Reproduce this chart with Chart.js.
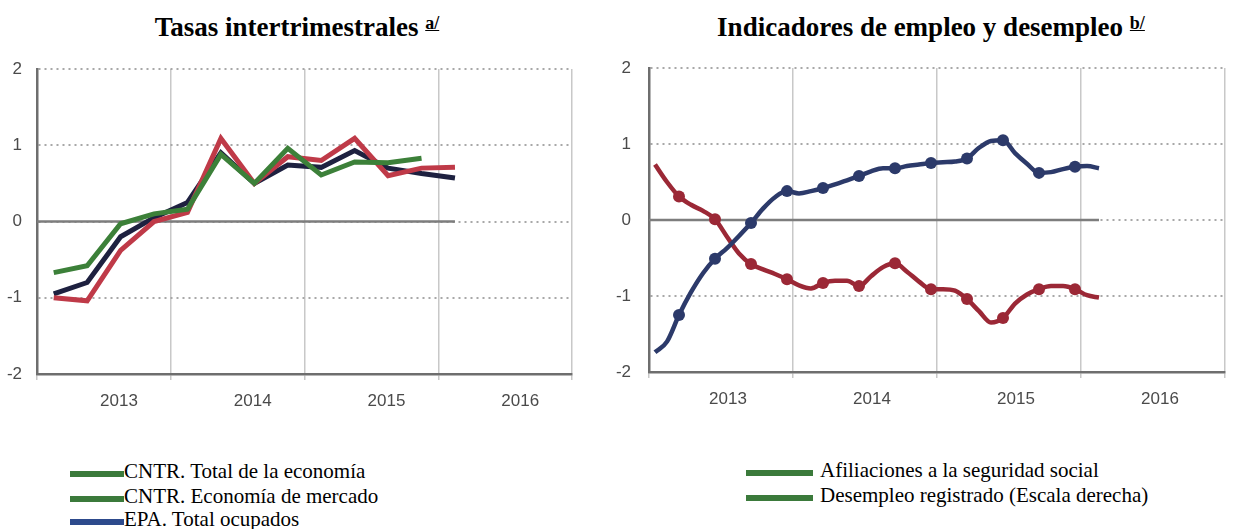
<!DOCTYPE html>
<html>
<head>
<meta charset="utf-8">
<script src="https://cdn.jsdelivr.net/npm/chart.js@4.4.0/dist/chart.umd.min.js"></script>
<style>
  body { margin: 0; background: #fff; width: 1236px; height: 529px; position: relative; overflow: hidden; }
  .box { position: absolute; top: 0; height: 440px; }
  .title { position: absolute; top: 12px; font: bold 27px 'Liberation Serif', 'Times New Roman', serif; text-align: center; white-space: nowrap; color: #000; }
  .title sup { font-size: 18px; text-decoration: underline; vertical-align: 7px; }
  .leg { position: absolute; font: 21px 'Liberation Serif', 'Times New Roman', serif; line-height: 24.5px; white-space: nowrap; color: #000; }
  .sw { display: inline-block; height: 6px; vertical-align: 1px; }
</style>
</head>
<body>
<div class="title" style="left:0;width:594px">Tasas intertrimestrales <sup>a/</sup></div>
<div class="title" style="left:626px;width:610px">Indicadores de empleo y desempleo <sup>b/</sup></div>

<div class="box" style="left:0;width:600px"><canvas id="left"></canvas></div>
<div class="box" style="left:600px;width:636px"><canvas id="right"></canvas></div>

<div class="leg" style="left:70px;top:459px"><span class="sw" style="width:54px;background:#3b7a3b"></span>CNTR. Total de la economía</div>
<div class="leg" style="left:70px;top:483.5px"><span class="sw" style="width:54px;background:#3b7a3b"></span>CNTR. Economía de mercado</div>
<div class="leg" style="left:70px;top:507px"><span class="sw" style="width:54px;background:#2d4a8c"></span>EPA. Total ocupados</div>

<div class="leg" style="left:746px;top:458px"><span class="sw" style="width:67px;margin-right:7px;background:#3b7a3b"></span>Afiliaciones a la seguridad social</div>
<div class="leg" style="left:746px;top:482.5px"><span class="sw" style="width:67px;margin-right:7px;background:#3b7a3b"></span>Desempleo registrado (Escala derecha)</div>

<script>
// data
const years = ['2013', '2014', '2015', '2016'];
const yTicks = [-2, -1, 0, 1, 2];

// quarterly, 2013-I .. 2016-I
const quarters = ['2013-I', '2013-II', '2013-III', '2013-IV', '2014-I', '2014-II', '2014-III', '2014-IV',
  '2015-I', '2015-II', '2015-III', '2015-IV', '2016-I'];
const cntrTotal = [-0.67, -0.58, -0.03, 0.10, 0.16, 0.88, 0.50, 0.96, 0.61, 0.78, 0.77, 0.83, null];
const cntrMercado = [-1.00, -1.04, -0.38, 0.00, 0.12, 1.09, 0.50, 0.85, 0.80, 1.09, 0.60, 0.70, 0.71];
const epaOcupados = [-0.95, -0.80, -0.20, 0.05, 0.25, 0.90, 0.50, 0.74, 0.71, 0.93, 0.70, 0.63, 0.57];

// monthly, ene-2013 .. feb-2016
const months = ['ene-13', 'feb-13', 'mar-13', 'abr-13', 'may-13', 'jun-13', 'jul-13', 'ago-13', 'sep-13', 'oct-13', 'nov-13', 'dic-13',
  'ene-14', 'feb-14', 'mar-14', 'abr-14', 'may-14', 'jun-14', 'jul-14', 'ago-14', 'sep-14', 'oct-14', 'nov-14', 'dic-14',
  'ene-15', 'feb-15', 'mar-15', 'abr-15', 'may-15', 'jun-15', 'jul-15', 'ago-15', 'sep-15', 'oct-15', 'nov-15', 'dic-15',
  'ene-16', 'feb-16'];
const afiliaciones = [-1.74, -1.60, -1.25, -0.95, -0.70, -0.51, -0.37, -0.21, -0.04, 0.15, 0.30, 0.38,
  0.35, 0.38, 0.42, 0.47, 0.52, 0.58, 0.64, 0.68, 0.68, 0.71, 0.73, 0.75,
  0.76, 0.77, 0.81, 0.95, 1.04, 1.05, 0.88, 0.74, 0.62, 0.63, 0.67, 0.70,
  0.71, 0.68];
const desempleo = [0.73, 0.50, 0.31, 0.20, 0.12, 0.01, -0.22, -0.44, -0.58, -0.65, -0.71, -0.78,
  -0.86, -0.90, -0.83, -0.80, -0.80, -0.87, -0.74, -0.62, -0.57, -0.68, -0.81, -0.91,
  -0.91, -0.93, -1.04, -1.20, -1.35, -1.29, -1.10, -0.98, -0.91, -0.87, -0.87, -0.91,
  -0.99, -1.02];

const tickFont = { family: "'Liberation Sans', Arial, sans-serif", size: 17 };

const toPoints = (vals) => vals.map((v, i) => ({ x: i + 0.5, y: v }));

const zeroLine = {
  id: 'zeroLine',
  beforeDatasetsDraw(chart) {
    const { ctx, chartArea, scales: { x, y } } = chart;
    const xs = chart.data.datasets.flatMap(d => d.data.filter(p => p.y !== null).map(p => p.x));
    const yy = y.getPixelForValue(0);
    ctx.save();
    ctx.strokeStyle = '#7d7d7d';
    ctx.lineWidth = 2.5;
    ctx.beginPath();
    ctx.moveTo(chartArea.left, yy);
    ctx.lineTo(x.getPixelForValue(Math.max(...xs)), yy);
    ctx.stroke();
    ctx.restore();
  }
};

function makeChart(id, datasets, perYear, o) {
  const xMax = perYear * years.length;
  return new Chart(document.getElementById(id), {
    type: 'line',
    data: { datasets },
    options: {
      responsive: true,
      maintainAspectRatio: false,
      animation: false,
      events: [],
      layout: { padding: { top: o.top, right: o.right, left: 0, bottom: 0 } },
      plugins: { legend: { display: false }, tooltip: { enabled: false } },
      scales: {
        x: {
          type: 'linear',
          min: 0,
          max: xMax,
          afterBuildTicks: s => { s.ticks = years.map((y, i) => ({ value: i * perYear })).concat([{ value: xMax }]); },
          afterFit: s => { s.height = o.xHeight; },
          grid: { color: '#c8c8c8', lineWidth: 1.5, tickLength: 6, drawTicks: true },
          border: { color: '#6e6e6e', width: 2.5 },
          ticks: {
            font: tickFont,
            color: '#4a4a4a',
            padding: 11,
            maxRotation: 0,
            autoSkip: false,
            labelOffset: o.labelOffset,
            callback: v => years[v / perYear] || ''
          }
        },
        y: {
          min: -2,
          max: 2,
          afterBuildTicks: s => { s.ticks = yTicks.map(v => ({ value: v })); },
          afterFit: s => { s.width = o.yWidth; },
          grid: { color: '#a8a8a8', lineWidth: 2, drawTicks: false },
          border: { color: '#6e6e6e', width: 2.5, dash: [2, 4] },
          ticks: { font: tickFont, color: '#4a4a4a', padding: o.yPad, callback: v => String(v) }
        }
      }
    },
    plugins: [zeroLine]
  });
}

makeChart('left', [
  { label: 'CNTR. Total de la economía', data: toPoints(cntrTotal), borderColor: '#3c8039', borderWidth: 5, pointRadius: 0, tension: 0 },
  { label: 'CNTR. Economía de mercado', data: toPoints(cntrMercado), borderColor: '#bf3a48', borderWidth: 5, pointRadius: 0, tension: 0 },
  { label: 'EPA. Total ocupados', data: toPoints(epaOcupados), borderColor: '#1e2140', borderWidth: 5, pointRadius: 0, tension: 0 }
], 4, { top: 69, right: 28, xHeight: 66, yWidth: 37, yPad: 15, labelOffset: 82 });

const quarterEnd = c => (c.dataIndex % 3 === 2 ? 6 : 0);
makeChart('right', [
  { label: 'Afiliaciones a la seguridad social', data: toPoints(afiliaciones), borderColor: '#2c3a6a', backgroundColor: '#2c3a6a',
    borderWidth: 4.5, pointRadius: quarterEnd, pointBorderWidth: 0, cubicInterpolationMode: 'monotone' },
  { label: 'Desempleo registrado (Escala derecha)', data: toPoints(desempleo), borderColor: '#9b2836', backgroundColor: '#9b2836',
    borderWidth: 4.5, pointRadius: quarterEnd, pointBorderWidth: 0, cubicInterpolationMode: 'monotone' }
], 12, { top: 68, right: 1, xHeight: 68, yWidth: 49, yPad: 18, labelOffset: 79 });
</script>
</body>
</html>
